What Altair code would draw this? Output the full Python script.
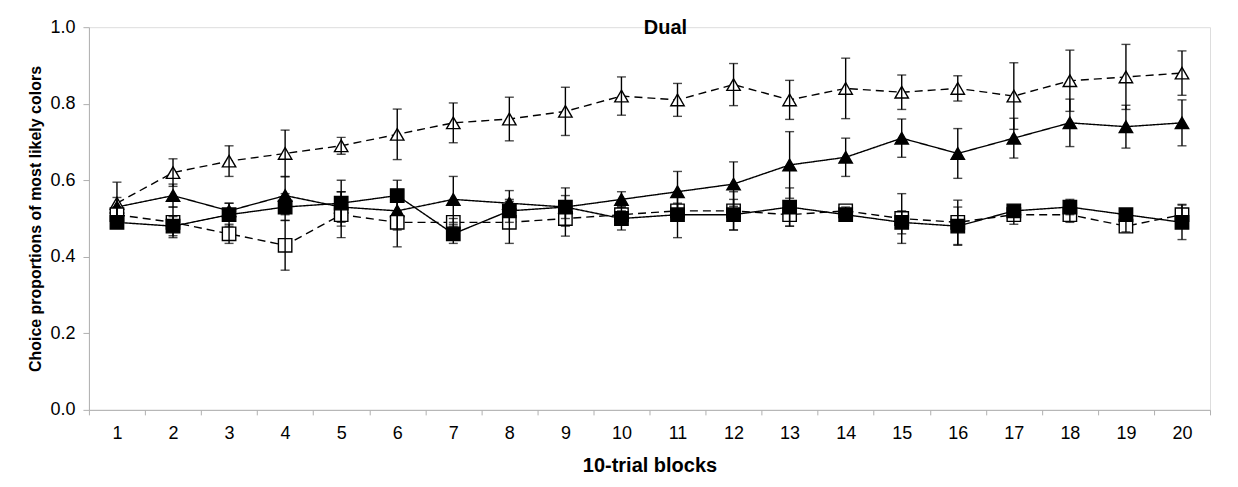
import altair as alt
import pandas as pd

blocks = list(range(1, 21))

series_names = ["open_triangle", "filled_triangle", "open_square", "filled_square"]

ot_mean = [0.54, 0.62, 0.65, 0.67, 0.69, 0.72, 0.75, 0.76, 0.78, 0.82,
           0.81, 0.85, 0.81, 0.84, 0.83, 0.84, 0.82, 0.86, 0.87, 0.88]
ot_err = [0.055, 0.036, 0.04, 0.061, 0.022, 0.066, 0.052, 0.057, 0.063, 0.05,
          0.043, 0.055, 0.051, 0.079, 0.045, 0.033, 0.087, 0.08, 0.085, 0.058]

ft_mean = [0.53, 0.56, 0.52, 0.56, 0.53, 0.52, 0.55, 0.54, 0.53, 0.55,
           0.57, 0.59, 0.64, 0.66, 0.71, 0.67, 0.71, 0.75, 0.74, 0.75]
ft_err = [0.025, 0.03, 0.02, 0.05, 0.04, 0.05, 0.06, 0.033, 0.05, 0.02,
          0.053, 0.058, 0.087, 0.05, 0.05, 0.065, 0.052, 0.062, 0.056, 0.06]

fs_mean = [0.49, 0.48, 0.51, 0.53, 0.54, 0.56, 0.46, 0.52, 0.53, 0.50,
           0.51, 0.51, 0.53, 0.51, 0.49, 0.48, 0.52, 0.53, 0.51, 0.49]
fs_err = [0.015, 0.025, 0.03, 0.035, 0.06, 0.04, 0.025, 0.03, 0.03, 0.03,
          0.06, 0.04, 0.05, 0.01, 0.03, 0.05, 0.01, 0.02, 0.01, 0.045]

os_mean = [0.51, 0.49, 0.46, 0.43, 0.51, 0.49, 0.49, 0.49, 0.50, 0.51,
           0.52, 0.52, 0.51, 0.52, 0.50, 0.49, 0.51, 0.51, 0.48, 0.51]
os_err = [0.02, 0.04, 0.025, 0.065, 0.06, 0.064, 0.01, 0.055, 0.046, 0.01,
          0.02, 0.05, 0.03, 0.01, 0.065, 0.058, 0.025, 0.02, 0.015, 0.027]

rows = []
for name, means, errs in [
    ("open_triangle", ot_mean, ot_err),
    ("filled_triangle", ft_mean, ft_err),
    ("open_square", os_mean, os_err),
    ("filled_square", fs_mean, fs_err),
]:
    for b, m, e in zip(blocks, means, errs):
        rows.append({"block": b, "series": name, "mean": m, "lo": m - e, "hi": m + e})
df = pd.DataFrame(rows)

FONT = "Liberation Sans"
AX = "#b0b0b0"

x_enc = alt.X(
    "block:O",
    bandPosition=0.5,
    scale=alt.Scale(type="band", paddingInner=0, paddingOuter=0),
    axis=alt.Axis(
        title="10-trial blocks", labelAngle=0, tickBand="extent",
        labelFontSize=18, labelFont=FONT, labelColor="black", labelPadding=10,
        titleFontSize=20, titleFont=FONT, titleFontWeight="bold", titleColor="black",
        titlePadding=13, domainColor=AX, tickColor=AX, tickSize=5, grid=False,
    ),
)
y_scale = alt.Scale(domain=[0, 1])
y_axis = alt.Axis(
    title="Choice proportions of most likely colors", values=[0, 0.2, 0.4, 0.6, 0.8, 1.0],
    format=".1f", labelFontSize=18, labelFont=FONT, labelColor="black", labelPadding=8,
    titleFontSize=16, titleFont=FONT, titleFontWeight="bold", titleColor="black",
    titlePadding=6, domainColor=AX, tickColor=AX, tickSize=6, grid=False,
)

dash_scale = alt.Scale(domain=series_names, range=[[8, 5], [1, 0], [8, 5], [1, 0]])
shape_scale = alt.Scale(domain=series_names,
                        range=["triangle-up", "triangle-up", "square", "square"])
fill_scale = alt.Scale(domain=series_names, range=["white", "black", "white", "black"])
size_scale = alt.Scale(domain=series_names, range=[180, 180, 130, 130])

base = alt.Chart(df)

lines = base.mark_line(color="black", strokeWidth=1.4).encode(
    x=x_enc,
    y=alt.Y("mean:Q", scale=y_scale, axis=y_axis),
    detail="series:N",
    strokeDash=alt.StrokeDash("series:N", scale=dash_scale, legend=None),
)

rules = base.mark_rule(color="black", strokeWidth=1.4).encode(
    x=x_enc, y="lo:Q", y2="hi:Q",
)
caps_lo = base.mark_tick(color="black", thickness=1.4, size=9).encode(x=x_enc, y="lo:Q")
caps_hi = base.mark_tick(color="black", thickness=1.4, size=9).encode(x=x_enc, y="hi:Q")

points = base.mark_point(filled=True, stroke="black", strokeWidth=1.4, opacity=1).encode(
    x=x_enc,
    y="mean:Q",
    shape=alt.Shape("series:N", scale=shape_scale, legend=None),
    fill=alt.Fill("series:N", scale=fill_scale, legend=None),
    size=alt.Size("series:N", scale=size_scale, legend=None),
)

chart = alt.layer(lines, points, rules, caps_lo, caps_hi).properties(
    width=1122,
    height=383,
    title=alt.TitleParams("Dual", fontSize=20, font=FONT, fontWeight="bold",
                          color="black", anchor="middle", offset=-20, dx=16),
    autosize=alt.AutoSizeParams(type="none"),
    padding={"left": 81, "top": 19, "right": 20, "bottom": 70},
).configure_view(stroke=None).configure(background="white")

chart.save("out.html", embed_options={"renderer": "svg", "actions": False})
